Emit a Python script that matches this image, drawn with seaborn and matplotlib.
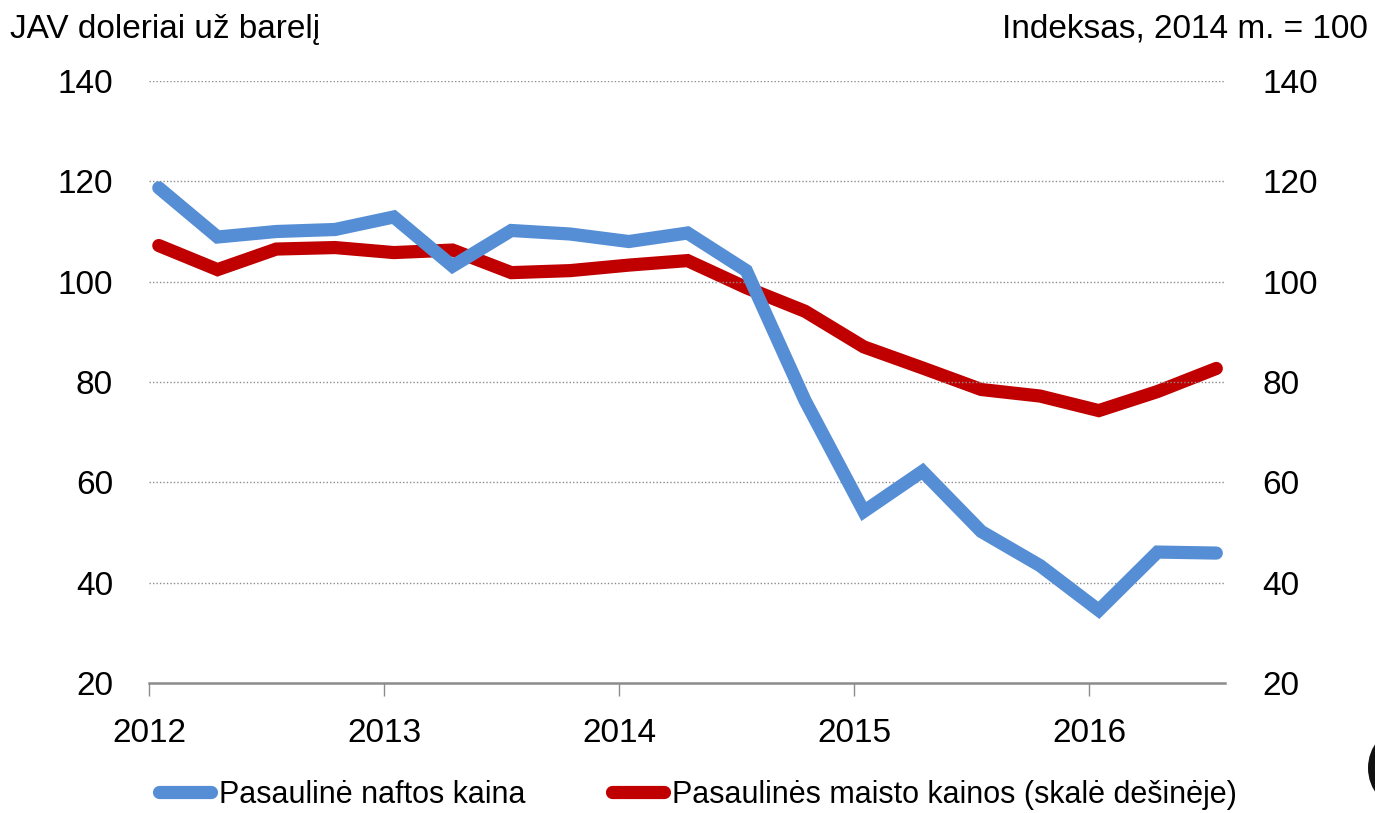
import matplotlib
matplotlib.use("Agg")
import matplotlib.pyplot as plt
import seaborn as sns
import pandas as pd
import numpy as np
from matplotlib.patches import Ellipse

# ---- data (quarterly, 2012Q1 .. 2016Q3) ----
quarters = ["2012Q1", "2012Q2", "2012Q3", "2012Q4",
            "2013Q1", "2013Q2", "2013Q3", "2013Q4",
            "2014Q1", "2014Q2", "2014Q3", "2014Q4",
            "2015Q1", "2015Q2", "2015Q3", "2015Q4",
            "2016Q1", "2016Q2", "2016Q3"]
oil_price = [118.7, 108.9, 110.0, 110.4, 112.9, 103.1, 110.2, 109.5, 108.0,
             109.7, 102.2, 76.3, 54.2, 62.2, 50.2, 43.4, 34.5, 46.1, 45.9]
food_index = [107.2, 102.4, 106.5, 106.8, 105.8, 106.3, 101.8, 102.2, 103.3,
              104.2, 98.8, 94.1, 87.0, 82.8, 78.5, 77.2, 74.3, 78.1, 82.7]
year_ticks = [2012, 2013, 2014, 2015, 2016]
y_ticks = [20, 40, 60, 80, 100, 120, 140]
oil_label = "Pasaulinė naftos kaina"
food_label = "Pasaulinės maisto kainos (skalė dešinėje)"
left_title = "JAV doleriai už barelį"
right_title = "Indeksas, 2014 m. = 100"

def q_to_x(q):
    y, n = int(q[:4]), int(q[-1])
    return y + (3 * (n - 1) + 0.5) / 12.0

df = pd.DataFrame({"x": [q_to_x(q) for q in quarters],
                   "oil": oil_price, "food": food_index})

sns.set_theme(style="white")
plt.rcParams["font.family"] = ["Liberation Sans Narrow", "Liberation Sans", "DejaVu Sans"]
plt.rcParams["text.color"] = "black"
plt.rcParams["xtick.color"] = "black"
plt.rcParams["ytick.color"] = "black"

BLUE = "#558ED5"
RED = "#C00000"
FS = 24

fig = plt.figure(figsize=(13.75, 8.13), dpi=100)
ax = fig.add_axes([149/1375, 1 - 683/813, (1225-149)/1375, (683-81)/813])
ax2 = ax.twinx()

sns.lineplot(data=df, x="x", y="oil", ax=ax, color=BLUE, linewidth=9.5,
             solid_capstyle="round", solid_joinstyle="miter", label=oil_label, legend=False)
sns.lineplot(data=df, x="x", y="food", ax=ax2, color=RED, linewidth=9.5,
             solid_capstyle="round", solid_joinstyle="miter", label=food_label, legend=False)

for a in (ax, ax2):
    a.set_ylim(20, 140)
    a.set_yticks(y_ticks)
    a.set_xlim(2012, 2012 + (1225-149)/235)
    a.set_xlabel("")
    a.set_ylabel("")
    for s in a.spines.values():
        s.set_visible(False)
    a.tick_params(axis="y", length=0, labelsize=FS, labelcolor="black")

ax.tick_params(axis="y", pad=26)
ax2.tick_params(axis="y", pad=27)
ax.set_xticks(year_ticks)
ax.set_xticklabels([str(y) for y in year_ticks])
ax.tick_params(axis="x", bottom=True, length=9, width=1, color="#8c8c8c",
               labelsize=FS, labelcolor="black", pad=16, direction="out")
ax.spines["bottom"].set_visible(True)
ax.spines["bottom"].set_color("#8c8c8c")
ax.spines["bottom"].set_linewidth(1.8)
ax.spines["bottom"].set_zorder(0)

for v in y_ticks[1:]:
    ax.axhline(v, color="#8c8c8c", linewidth=1.0, linestyle=(0, (1, 1.5)), zorder=0)

ax.set_zorder(ax2.get_zorder() + 1)
ax.patch.set_visible(False)

fig.text(10/1375, 1 - 14/813, left_title, ha="left", va="top", fontsize=FS)
fig.text(1368/1375, 1 - 14/813, right_title, ha="right", va="top", fontsize=FS)

h1, l1 = ax.get_legend_handles_labels()
h2, l2 = ax2.get_legend_handles_labels()
leg = fig.legend(h1 + h2, l1 + l2, loc="center", bbox_to_anchor=(0.5075, 1 - 795/813),
                 ncol=2, frameon=False, fontsize=22, handlelength=1.7,
                 handletextpad=0.25, columnspacing=2.85, borderaxespad=0, borderpad=0)
for line in leg.get_lines():
    line.set_solid_capstyle("round")

fig.patches.append(Ellipse((1404/1375, 1 - 768/813), 72/1375, 80/813,
                           transform=fig.transFigure, facecolor="#111111",
                           edgecolor="none"))

fig.savefig("out.png", dpi=100)
